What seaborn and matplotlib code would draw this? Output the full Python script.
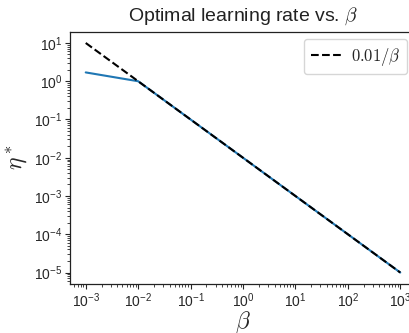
import numpy as np
import pandas as pd
import matplotlib
matplotlib.use("Agg")
import matplotlib.pyplot as plt
import seaborn as sns

sns.set_style("ticks")
plt.rcParams['font.family'] = ['Liberation Sans', 'DejaVu Sans']
plt.rcParams['mathtext.fontset'] = 'cm'

# data
betas = [1e-3, 1e-2, 1e-1, 1e0, 1e1, 1e2, 1e3]
eta_opt = [1.7, 1.0, 1e-1, 1e-2, 1e-3, 1e-4, 1e-5]
ref_const = 0.01
ref_vals = [ref_const / b for b in betas]

df = pd.DataFrame({"beta": betas, "eta": eta_opt, "ref": ref_vals})

fig = plt.figure(figsize=(4.09, 3.33), dpi=100)
ax = fig.add_axes([70/409, 1-284/333, (416-70)/409, (284-31.5)/333])

sns.lineplot(data=df, x="beta", y="eta", ax=ax, color="#1f77b4", lw=1.5)
sns.lineplot(data=df, x="beta", y="ref", ax=ax, color="black", lw=1.5,
             linestyle="--", label=r"$0.01/\beta$")
ax.set_xscale("log")
ax.set_yscale("log")

for s in ax.spines.values():
    s.set_linewidth(0.9)
    s.set_color("#222222")
ax.tick_params(which="major", length=3.5, width=0.8, labelsize=10, pad=2)
ax.tick_params(which="minor", length=2, width=0.6)

ax.set_title(r"Optimal learning rate vs. $\beta$", fontsize=14, pad=8, color="#222222")
ax.set_xlabel(r"$\beta$", fontsize=17, labelpad=-1)
ax.set_ylabel(r"$\eta^*$", fontsize=17, labelpad=3)
leg = ax.legend(loc="upper right", fontsize=12, handlelength=1.8,
                handletextpad=0.6, borderpad=0.4, frameon=True,
                borderaxespad=0, bbox_to_anchor=(0.974, 0.970))

fig.savefig("out.png", dpi=100)
